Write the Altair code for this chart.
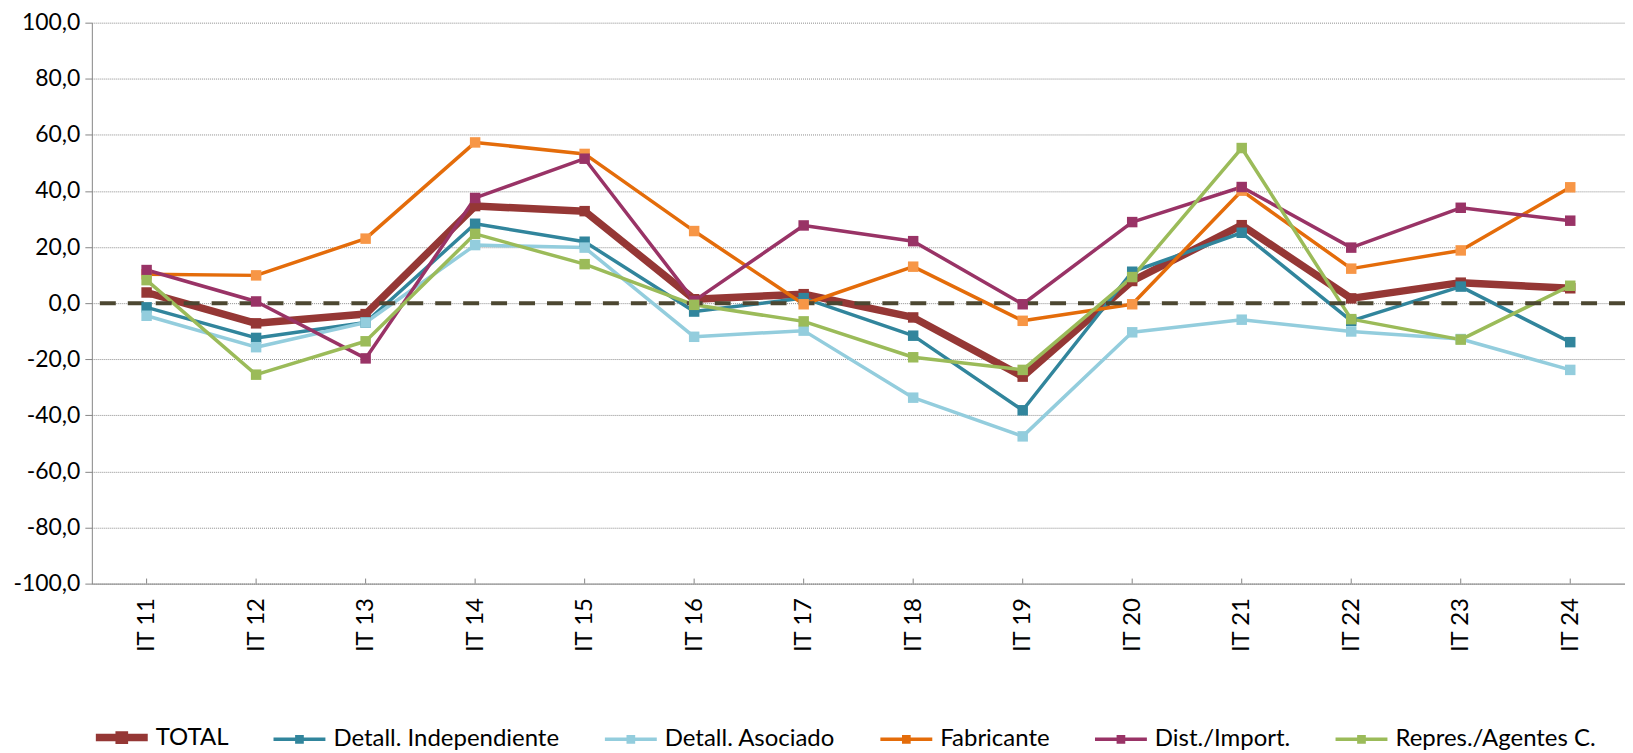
import altair as alt
import pandas as pd

categories = ["IT 11", "IT 12", "IT 13", "IT 14", "IT 15", "IT 16", "IT 17",
              "IT 18", "IT 19", "IT 20", "IT 21", "IT 22", "IT 23", "IT 24"]
series_names = ["TOTAL", "Detall. Independiente", "Detall. Asociado",
                "Fabricante", "Dist./Import.", "Repres./Agentes C."]

total = [3.8, -7.2, -3.9, 34.6, 32.8, 1.4, 3.2, -5.1, -26.2, 7.9, 27.8, 1.7, 7.3, 5.3]
indep = [-1.5, -12.4, -6.9, 28.3, 21.9, -3.0, 1.8, -11.6, -38.2, 11.2, 25.1, -6.3, 5.9, -13.9]
asoc = [-4.5, -15.7, -6.9, 20.7, 19.8, -12.0, -9.8, -33.7, -47.5, -10.4, -5.9, -10.1, -12.8, -23.8]
fabric = [10.3, 9.9, 23.0, 57.3, 53.2, 25.7, -0.4, 13.0, -6.3, -0.4, 40.1, 12.3, 18.8, 41.3]
dist = [11.8, 0.6, -19.7, 37.5, 51.5, 0.8, 27.7, 22.1, -0.4, 28.9, 41.4, 19.8, 34.0, 29.4]
repres = [8.2, -25.5, -13.6, 24.7, 13.9, -0.6, -6.5, -19.3, -23.8, 9.3, 55.3, -5.7, -13.0, 6.2]

line_colors = ["#953735", "#31859c", "#93cddd", "#e46c0a", "#993366", "#9bbb59"]
marker_colors = ["#953735", "#31859c", "#93cddd", "#f79646", "#993366", "#9bbb59"]
line_widths = [7.5, 3.5, 3.5, 3.5, 3.5, 3.5]
y_ticks = [-100, -80, -60, -40, -20, 0, 20, 40, 60, 80, 100]
zero_line = [0.0]

FONT = "Lato"
series_values = [total, indep, asoc, fabric, dist, repres]

rows = []
for name, vals in zip(series_names, series_values):
    for cat, v in zip(categories, vals):
        rows.append({"periodo": cat, "serie": name, "valor": v})
df = pd.DataFrame(rows)

x_enc = alt.X(
    "periodo:N", sort=categories,
    scale=alt.Scale(type="point", padding=0.5),
    axis=alt.Axis(title=None, labelAngle=270, labelAlign="right", labelBaseline="middle",
                  labelFont=FONT, labelFontSize=24, labelColor="#000000", labelPadding=14,
                  ticks=False, tickSize=0, domainColor="#868686", domainWidth=1, grid=False),
)
y_enc = alt.Y(
    "valor:Q",
    scale=alt.Scale(domain=[-100, 100], nice=False, zero=False),
    axis=alt.Axis(title=None, values=y_ticks, labelExpr="datum.value + ',0'",
                  labelFont=FONT, labelFontSize=23, labelColor="#000000", labelPadding=5,
                  tickSize=7, tickColor="#868686", domainColor="#868686", domainWidth=1,
                  grid=True, gridColor="#8c8c8c", gridDash=[1, 1], gridWidth=1),
)

symbol_path = ("M-1,0L1,0M-0.1,-0.1L0.1,-0.1L0.1,0.1L-0.1,0.1Z")
legend = alt.Legend(title=None, orient="none", legendX=0, legendY=686,
                    direction="horizontal", columns=6, symbolType=symbol_path,
                    symbolSize=2704, labelFont=FONT, labelFontSize=24, labelColor="#000000",
                    labelOffset=4, columnPadding=38, padding=0, symbolOpacity=1,
                    labelLimit=500)

lines = alt.Chart(df).mark_line(strokeCap="round", strokeJoin="round").encode(
    x=x_enc, y=y_enc,
    color=alt.Color("serie:N", sort=series_names,
                    scale=alt.Scale(domain=series_names, range=line_colors), legend=legend),
    strokeWidth=alt.StrokeWidth("serie:N",
                                scale=alt.Scale(type="ordinal", domain=series_names, range=line_widths),
                                legend=legend),
)

zero_df = pd.DataFrame({"valor": zero_line})
zero = alt.Chart(zero_df).mark_rule(color="#4c4731", strokeWidth=4, strokeDash=[16, 12]).encode(
    y=y_enc
)

points = alt.Chart(df).mark_point(shape="square", filled=True, size=110, opacity=1, strokeWidth=0).encode(
    x=x_enc, y=y_enc,
    fill=alt.Fill("serie:N", scale=alt.Scale(domain=series_names, range=marker_colors), legend=None),
)

tick_df = pd.DataFrame({"periodo": categories})
xticks = alt.Chart(tick_df).mark_rule(color="#868686", strokeWidth=1).encode(
    x=x_enc, y=alt.datum(-100), y2=alt.datum(-98.2)
)

chart = alt.layer(lines, zero, points, xticks).properties(
    width=1536, height=562,
    padding={"left": 84, "top": 14, "right": 0, "bottom": 170},
    autosize=alt.AutoSizeParams(type="none"),
    background="white",
).configure_view(stroke=None)

chart.save("out.html", embed_options={"renderer": "svg", "actions": False})
